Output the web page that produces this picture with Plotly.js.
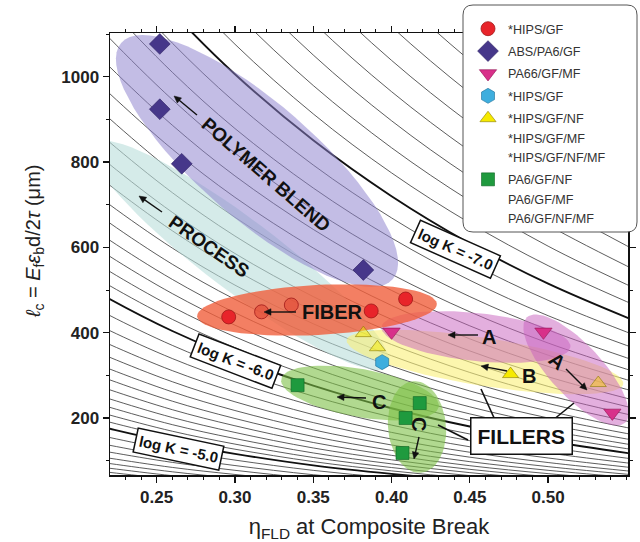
<!DOCTYPE html>
<html><head><meta charset="utf-8">
<script src="https://cdn.plot.ly/plotly-3.0.1.min.js"></script>
<style>html,body{margin:0;padding:0;background:#fff}#chart{width:640px;height:542px}</style>
</head><body><div id="chart"></div>
<script>
// ---------------- data ----------------
const hipsGF_eta   = [0.296, 0.317, 0.336, 0.387, 0.409];
const hipsGF_len   = [437, 449, 465, 451, 479];
const absPA6_eta   = [0.252, 0.252, 0.266, 0.382];
const absPA6_len   = [1077, 924, 796, 547];
const pa66_eta     = [0.400, 0.497, 0.541];
const pa66_len     = [402, 402, 212];
const hipsHex_eta  = [0.394];
const hipsHex_len  = [331];
const hipsFill_eta = [0.476, 0.382, 0.391, 0.532];
const hipsFill_len = [303, 399, 366, 282];
const pa6Fill_eta  = [0.340, 0.418, 0.409, 0.407];
const pa6Fill_len  = [277, 235, 200, 118];

// bold iso-K lines (log K = -7, -6, -5)
const isoEta   = [0.20, 0.22, 0.26, 0.30, 0.35, 0.40, 0.45, 0.50, 0.56];
const isoLenK7 = [1407, 1318, 1152, 1006, 851, 720, 609, 515, 421];
const isoLenK6 = [522, 479, 404, 341, 276, 223, 180, 146, 113];
const isoLenK5 = [193, 175, 142, 116, 89, 69, 53, 41, 30];

const xTickVals = [0.25, 0.30, 0.35, 0.40, 0.45, 0.50];
const yTickVals = [200, 400, 600, 800, 1000];

// ---------------- layout geometry ----------------
const W = 640, H = 542;
const M = {l: 110, r: 12, t: 33, b: 67};
const XR = [0.2202, 0.5510], YR = [66.4, 1102.7];
const pw = W - M.l - M.r, ph = H - M.t - M.b;
const X = px => XR[0] + (px - M.l) / pw * (XR[1] - XR[0]);
const Y = py => YR[1] - (py - M.t) / ph * (YR[1] - YR[0]);
const FONT = 'Liberation Sans, Arial, sans-serif';

const traces = [];

// thin iso-K lines between the bold ones (log-spaced in K)
function isoLine(lk) {
  return isoEta.map((_, i) => {
    const l7 = Math.log(isoLenK7[i]), l6 = Math.log(isoLenK6[i]), l5 = Math.log(isoLenK5[i]);
    const u = lk + 6;
    return Math.exp(u <= 0 ? l6 + u * (l6 - l7) : l6 + u * (l5 - l6));
  });
}
const levels = [];
for (let j = 32; j >= 1; j--) levels.push(-6 - j / 16);
for (let j = 1; j <= 11; j++) levels.push(-6 + j / 12);
for (let j = 1; j <= 9; j++) levels.push(-5 + j / 8);
levels.forEach(lk => {
  if (Math.abs(lk + 7) < 1e-6) return;
  traces.push({x: isoEta, y: isoLine(lk), mode: 'lines',
    line: {color: '#333', width: 0.8, shape: 'spline'}, hoverinfo: 'skip', showlegend: false});
});
[isoLenK7, isoLenK6, isoLenK5].forEach(arr => traces.push({x: isoEta, y: arr, mode: 'lines',
  line: {color: '#111', width: 1.9, shape: 'spline'}, hoverinfo: 'skip', showlegend: false}));

// shaded regions (ellipses, pixel geometry)
const regions = [
  {cx: 240, cy: 255, a: 185, b: 36, ang: 37, c: 'rgba(185,222,219,0.6)'},
  {cx: 257, cy: 161, a: 180, b: 58, ang: 41, c: 'rgba(140,128,206,0.52)'},
  {cx: 485, cy: 362, a: 140, b: 24, ang: 9,  c: 'rgba(250,240,120,0.6)'},
  {cx: 476, cy: 337, a: 95,  b: 24, ang: 6,  c: 'rgba(200,95,190,0.5)'},
  {cx: 576, cy: 370, a: 72,  b: 26, ang: 47, c: 'rgba(200,95,190,0.5)'},
  {cx: 317, cy: 310, a: 120, b: 25, ang: -3, c: 'rgba(240,95,60,0.8)'},
  {cx: 360, cy: 393, a: 80,  b: 24, ang: 10, c: 'rgba(125,192,70,0.6)'},
  {cx: 417, cy: 427, a: 46,  b: 29, ang: 85, c: 'rgba(125,192,70,0.6)'}
];
regions.forEach(r => {
  const xs = [], ys = [];
  const th = r.ang * Math.PI / 180;
  for (let i = 0; i <= 72; i++) {
    const t = 2 * Math.PI * i / 72;
    const px = r.cx + r.a * Math.cos(th) * Math.cos(t) - r.b * Math.sin(th) * Math.sin(t);
    const py = r.cy + r.a * Math.sin(th) * Math.cos(t) + r.b * Math.cos(th) * Math.sin(t);
    xs.push(X(px)); ys.push(Y(py));
  }
  traces.push({x: xs, y: ys, mode: 'lines', fill: 'toself', fillcolor: r.c,
    line: {width: 0}, hoverinfo: 'skip', showlegend: false});
});

// data markers
const star = '*';
traces.push({x: hipsGF_eta, y: hipsGF_len, mode: 'markers', name: star + 'HIPS/GF', legendgroup: 'g1',
  marker: {symbol: 'circle', size: 14, color: ['#e8242a', 'rgba(225,70,50,0.6)', 'rgba(225,70,50,0.6)', '#e8242a', '#e8242a'],
  line: {color: '#a01818', width: 0.8}}});
traces.push({x: absPA6_eta, y: absPA6_len, mode: 'markers', name: 'ABS/PA6/GF', legendgroup: 'g2',
  marker: {symbol: 'diamond', size: 16, color: '#46378a', line: {color: '#2a1f60', width: 0.6}}});
traces.push({x: pa66_eta, y: pa66_len, mode: 'markers', name: 'PA66/GF/MF', legendgroup: 'g3',
  marker: {symbol: 'triangle-down', size: 15, color: '#d8308a', line: {color: '#901050', width: 0.6}}});
traces.push({x: hipsHex_eta, y: hipsHex_len, mode: 'markers', name: star + 'HIPS/GF', legendgroup: 'g4',
  marker: {symbol: 'hexagon', size: 15, color: '#3eaede', line: {color: '#1b6f99', width: 0.6}}});
traces.push({x: hipsFill_eta, y: hipsFill_len, mode: 'markers', name: star + 'HIPS/GF/NF', legendgroup: 'g5',
  marker: {symbol: 'triangle-up', size: 14, color: ['#f6ea00', 'rgba(246,234,0,0.5)', 'rgba(246,234,0,0.5)', 'rgba(246,200,40,0.55)'],
  line: {color: '#8a7a00', width: 0.6}}});
const blank = {symbol: 'square', size: 1, color: 'rgba(0,0,0,0)', line: {width: 0}};
traces.push({x: [null], y: [null], mode: 'markers', name: star + 'HIPS/GF/MF', legendgroup: 'g5', marker: blank});
traces.push({x: [null], y: [null], mode: 'markers', name: star + 'HIPS/GF/NF/MF', legendgroup: 'g5', marker: blank});
traces.push({x: pa6Fill_eta, y: pa6Fill_len, mode: 'markers', name: 'PA6/GF/NF', legendgroup: 'g6',
  marker: {symbol: 'square', size: 13, color: '#1f9a3e', line: {color: '#0e6424', width: 0.6}}});
traces.push({x: [null], y: [null], mode: 'markers', name: 'PA6/GF/MF', legendgroup: 'g6', marker: blank});
traces.push({x: [null], y: [null], mode: 'markers', name: 'PA6/GF/NF/MF', legendgroup: 'g6', marker: blank});

// ---------------- annotations & shapes ----------------
const ann = [];
const shapes = [];
function label(px, py, text, size, angle, box) {
  const o = {x: X(px), y: Y(py), xref: 'x', yref: 'y', text: '<b>' + text + '</b>', showarrow: false,
    font: {family: FONT, size: size, color: '#111'}, textangle: angle || 0};
  if (box) { o.bgcolor = '#fff'; o.bordercolor = '#111'; o.borderwidth = 1.5; o.borderpad = box; }
  ann.push(o);
}
function arrow(tx, ty, hx, hy) {
  const dx = hx - tx, dy = hy - ty, len = Math.hypot(dx, dy);
  const ux = dx / len, uy = dy / len, hl = 7, hw = 3.3;
  const bx = hx - ux * hl, by = hy - uy * hl;
  shapes.push({type: 'line', xref: 'x', yref: 'y', layer: 'above', x0: X(tx), y0: Y(ty), x1: X(bx + ux), y1: Y(by + uy),
    line: {color: '#111', width: 1.4}});
  shapes.push({type: 'path', xref: 'x', yref: 'y', layer: 'above', fillcolor: '#111', line: {color: '#111', width: 0.5},
    path: `M ${X(hx)},${Y(hy)} L ${X(bx - uy * hw)},${Y(by + ux * hw)} L ${X(bx + uy * hw)},${Y(by - ux * hw)} Z`});
}
label(266, 174, 'POLYMER BLEND', 19, 41);
arrow(197, 115, 174, 96);
label(209, 246, 'PROCESS', 19, 35);
arrow(162, 212, 139, 196);
label(332, 312, 'FIBER', 20, 0);
arrow(296, 312, 264, 312);
label(489, 337, 'A', 20, 0);
arrow(478, 335, 448, 335);
label(529, 376, 'B', 20, 0);
arrow(507, 371, 481, 366);
label(557, 361, 'A', 20, 40);
arrow(566, 369, 587, 390);
label(379, 402, 'C', 20, 0);
arrow(366, 398, 337, 397);
label(419, 424, 'C', 20, 90);
arrow(419, 437, 414, 459);
label(455, 249, 'log K = -7.0', 15, 24, 3);
label(235, 361, 'log K = -6.0', 15, 21, 3);
label(178, 449, 'log K = -5.0', 15, 12, 3);
label(521, 436, 'FILLERS', 21, 0, 6);

const px2paperX = px => (px - M.l) / pw;
const py2paperY = py => 1 - (py - M.t) / ph;

// y-axis title, placed at the reference position
ann.push({xref: 'paper', yref: 'paper', x: px2paperX(34), y: py2paperY(242), xanchor: 'center', yanchor: 'middle',
  textangle: -90, showarrow: false,
  text: '<i>ℓ</i><sub>c</sub> = <i>E</i><sub>f</sub><i>ε</i><sub>b</sub>d/2<i>τ</i> (μm)',
  font: {family: FONT, size: 20, color: '#222'}});

function rounded(x0, x1, y0, y1, rx, ry) {
  return `M ${x0 + rx},${y1} L ${x1 - rx},${y1} Q ${x1},${y1} ${x1},${y1 - ry} L ${x1},${y0 + ry} Q ${x1},${y0} ${x1 - rx},${y0} ` +
         `L ${x0 + rx},${y0} Q ${x0},${y0} ${x0},${y0 + ry} L ${x0},${y1 - ry} Q ${x0},${y1} ${x0 + rx},${y1} Z`;
}
shapes.push(
  {type: 'path', xref: 'paper', yref: 'paper', layer: 'above',
   path: rounded(px2paperX(463), px2paperX(637), py2paperY(232), py2paperY(5), 10 / pw, 10 / ph),
   fillcolor: '#fff', line: {color: '#555', width: 1}},
  {type: 'line', xref: 'x', yref: 'y', x0: X(495), y0: Y(420), x1: X(481), y1: Y(389), line: {color: '#111', width: 1.6}, layer: 'above'},
  {type: 'line', xref: 'x', yref: 'y', x0: X(553), y0: Y(420), x1: X(574), y1: Y(403), line: {color: '#111', width: 1.6}, layer: 'above'},
  {type: 'line', xref: 'x', yref: 'y', x0: X(468), y0: Y(440), x1: X(438), y1: Y(425), line: {color: '#111', width: 1.6}, layer: 'above'}
);

const axisCommon = {
  showline: true, linewidth: 1.5, linecolor: '#111', mirror: 'ticks', showgrid: false, zeroline: false,
  ticks: 'outside', ticklen: 6, tickwidth: 1.3, tickcolor: '#111', automargin: false,
  tickfont: {family: FONT, size: 17, color: '#222', weight: 'bold'}
};

const layout = {
  width: W, height: H, margin: M, paper_bgcolor: '#fff', plot_bgcolor: '#fff',
  font: {family: FONT},
  xaxis: Object.assign({}, axisCommon, {
    range: XR, tickvals: xTickVals, tickformat: '.2f',
    minor: {dtick: 0.01, tick0: 0.2, ticks: 'outside', ticklen: 3, tickwidth: 1, tickcolor: '#111'},
    title: {text: 'η<sub>FLD</sub> at Composite Break', font: {family: FONT, size: 22, color: '#222'}}
  }),
  yaxis: Object.assign({}, axisCommon, {
    range: YR, tickvals: yTickVals,
    minor: {dtick: 100, tick0: 0, ticks: 'outside', ticklen: 3, tickwidth: 1, tickcolor: '#111'}
  }),
  legend: {x: px2paperX(468), y: py2paperY(14), xanchor: 'left', yanchor: 'top', bgcolor: 'rgba(0,0,0,0)',
    borderwidth: 0, traceorder: 'grouped', tracegroupgap: 3, font: {family: FONT, size: 12.6, color: '#333'}},
  annotations: ann, shapes: shapes, showlegend: true
};

Plotly.newPlot('chart', traces, layout, {staticPlot: true, displayModeBar: false});
</script>
</body></html>
